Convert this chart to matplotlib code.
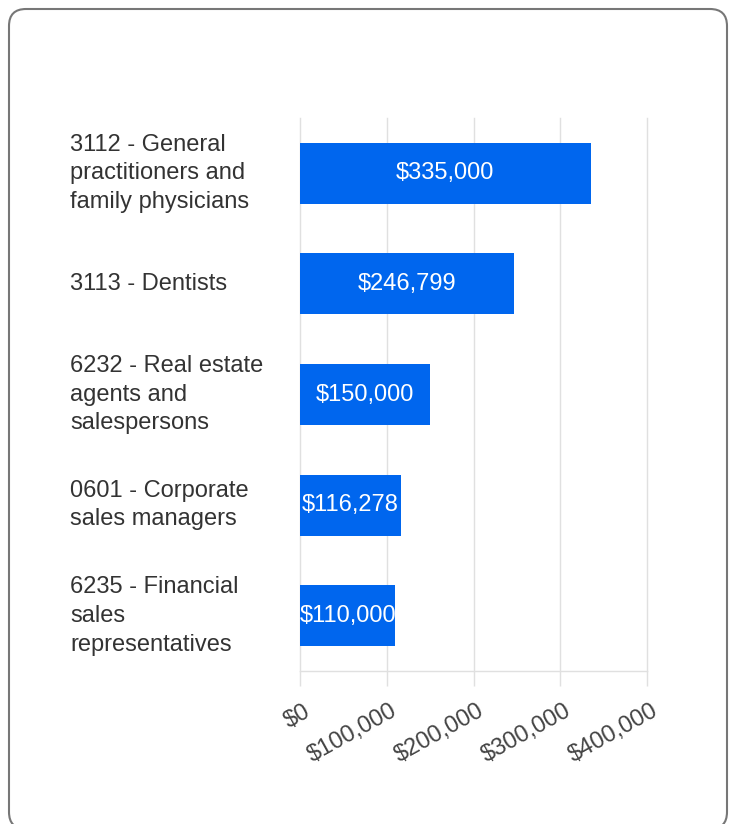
import matplotlib
matplotlib.use("Agg")
import matplotlib.pyplot as plt
from matplotlib.patches import FancyBboxPatch
from matplotlib.transforms import ScaledTranslation, blended_transform_factory

categories = [
    "3112 - General\npractitioners and\nfamily physicians",
    "3113 - Dentists",
    "6232 - Real estate\nagents and\nsalespersons",
    "0601 - Corporate\nsales managers",
    "6235 - Financial\nsales\nrepresentatives",
]
values = [335000, 246799, 150000, 116278, 110000]
bar_labels = ["$335,000", "$246,799", "$150,000", "$116,278", "$110,000"]
xticks = [0, 100000, 200000, 300000, 400000]
xtick_labels = ["$0", "$100,000", "$200,000", "$300,000", "$400,000"]

W, H = 734, 824
plt.rcParams['font.family'] = ['Liberation Sans', 'DejaVu Sans']
fig = plt.figure(figsize=(W / 100, H / 100), dpi=100)

# rounded border
border = FancyBboxPatch((0.09, -0.05), 7.18, 8.2,
                        boxstyle="round,pad=0,rounding_size=0.17",
                        transform=fig.dpi_scale_trans, fill=False,
                        edgecolor="#777777", linewidth=1.5)
fig.patches.append(border)

ax = fig.add_axes([300 / W, 1 - 671 / H, 347 / W, 553 / H])
ypos = list(range(len(categories)))
ax.barh(ypos, values, height=0.55, color="#0066ee", zorder=3)
ax.set_ylim(len(categories) - 0.5, -0.5)
ax.set_xlim(0, 400000)

for y, v, lab in zip(ypos, values, bar_labels):
    ax.text(v / 2, y, lab, ha="center", va="center", color="white",
            fontsize=17, zorder=4)

ax.set_yticks([])
ax.set_xticks(xticks)
ax.set_xticklabels(xtick_labels, rotation=29, ha="right", va="center",
                   rotation_mode="anchor", fontsize=17, color="#444444")
ax.tick_params(axis="x", length=11, width=1, color="#e0e0e0", pad=17)
off = ScaledTranslation(9 / 100, 0, fig.dpi_scale_trans)
for lab in ax.get_xticklabels():
    lab.set_transform(lab.get_transform() + off)

ax.grid(axis="x", color="#e0e0e0", linewidth=1, zorder=0)
for gl in ax.get_xgridlines():
    gl.set_clip_on(False)
for s in ["top", "right", "left"]:
    ax.spines[s].set_visible(False)
ax.spines["bottom"].set_color("#e0e0e0")
ax.spines["bottom"].set_linewidth(1)

trans = blended_transform_factory(fig.transFigure, ax.transData)
for y, c in zip(ypos, categories):
    ax.text(70 / W, y, c, transform=trans, ha="left", va="center",
            fontsize=17, color="#333333", linespacing=1.4)

fig.savefig("out.png", dpi=100)
